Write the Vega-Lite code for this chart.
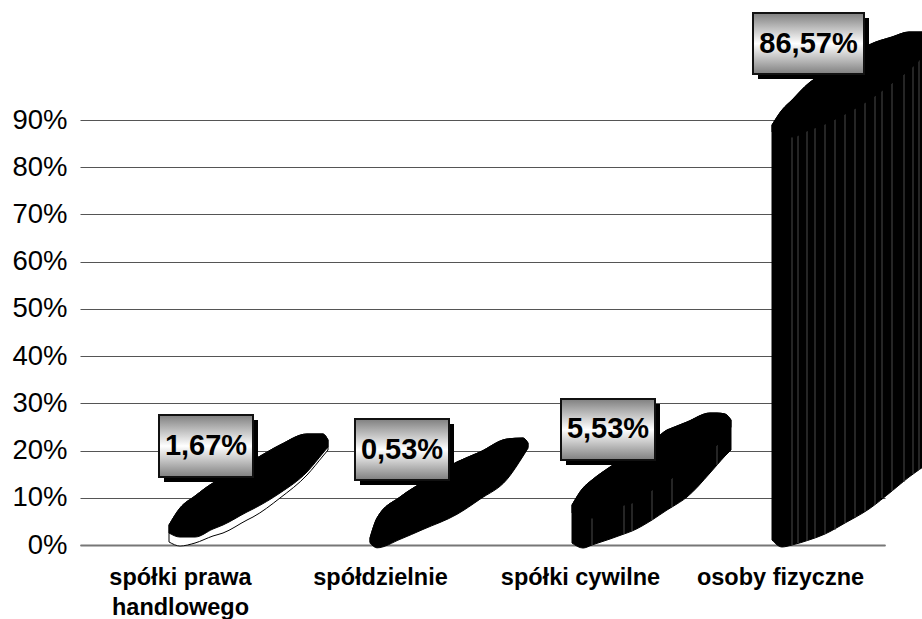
{
"$schema":"https://vega.github.io/schema/vega-lite/v6.json",
"width":805,"height":425,
"autosize":"none",
"padding":{"left":80,"top":120,"right":37,"bottom":74},
"background":"white",
"config":{"view":{"stroke":null}},
"datasets":{
"shapes":[
{"s":"a","x":169,"hi":4.24,"lo":2.54,"base":0.64},
{"s":"a","x":180,"hi":7.84,"lo":1.69,"base":-0.21},
{"s":"a","x":195,"hi":10.38,"lo":1.69,"base":0.42},
{"s":"a","x":213,"hi":13.13,"lo":3.39,"base":1.91},
{"s":"a","x":223,"hi":14.19,"lo":4.24,"base":2.54},
{"s":"a","x":247,"hi":17.37,"lo":6.99,"base":5.29},
{"s":"a","x":253,"hi":18.0,"lo":7.62,"base":5.93},
{"s":"a","x":280,"hi":21.18,"lo":11.01,"base":9.95},
{"s":"a","x":307,"hi":23.51,"lo":15.46,"base":14.82},
{"s":"a","x":323,"hi":23.51,"lo":19.48,"base":18.85},
{"s":"a","x":328,"hi":22.24,"lo":20.75,"base":20.12},
{"s":"b","x":370,"hi":1.48,"lo":0.64,"base":0.4},
{"s":"b","x":377,"hi":5.72,"lo":-0.42,"base":-0.6},
{"s":"b","x":400,"hi":10.16,"lo":1.48,"base":1.2},
{"s":"b","x":423,"hi":13.34,"lo":3.6,"base":3.3},
{"s":"b","x":457,"hi":17.58,"lo":6.78,"base":6.5},
{"s":"b","x":480,"hi":19.69,"lo":9.95,"base":9.7},
{"s":"b","x":507,"hi":22.45,"lo":14.19,"base":13.9},
{"s":"b","x":523,"hi":22.66,"lo":19.06,"base":18.8},
{"s":"b","x":528,"hi":21.6,"lo":20.75,"base":20.5},
{"s":"c","x":572,"hi":8.47,"lo":6.78,"base":0.42},
{"s":"c","x":583,"hi":12.07,"lo":5.72,"base":-0.64},
{"s":"c","x":592,"hi":13.77,"lo":5.72,"base":0},
{"s":"c","x":610,"hi":16.52,"lo":7.2,"base":1.27},
{"s":"c","x":624,"hi":18.42,"lo":8.47,"base":2.33},
{"s":"c","x":632,"hi":19.48,"lo":8.89,"base":2.96},
{"s":"c","x":652,"hi":21.81,"lo":11.65,"base":5.29},
{"s":"c","x":667,"hi":24.35,"lo":13.34,"base":7.41},
{"s":"c","x":672,"hi":24.78,"lo":14.19,"base":8.05},
{"s":"c","x":687,"hi":26.05,"lo":16.31,"base":10.16},
{"s":"c","x":710,"hi":27.95,"lo":20.12,"base":15.25},
{"s":"c","x":717,"hi":27.95,"lo":21.18,"base":16.94},
{"s":"c","x":725,"hi":27.74,"lo":22.87,"base":18.85},
{"s":"c","x":731,"hi":26.47,"lo":24.99,"base":20.12},
{"s":"d","x":772,"hi":88.94,"lo":87.46,"base":1.06},
{"s":"d","x":782,"hi":92.12,"lo":86.83,"base":-0.42},
{"s":"d","x":792,"hi":94.24,"lo":86.4,"base":0},
{"s":"d","x":809,"hi":97.84,"lo":87.88,"base":1.06},
{"s":"d","x":825,"hi":99.96,"lo":89.15,"base":2.33},
{"s":"d","x":845,"hi":102.29,"lo":91.27,"base":4.66},
{"s":"d","x":869,"hi":105.89,"lo":94.24,"base":7.62},
{"s":"d","x":892,"hi":107.58,"lo":97.84,"base":11.44},
{"s":"d","x":909,"hi":108.64,"lo":100.59,"base":14.4},
{"s":"d","x":930,"hi":108.64,"lo":105,"base":17.5}
],
"seams":[
{"x":592,"a":5.72,"b":0},{"x":624,"a":8.47,"b":2.33},{"x":632,"a":8.89,"b":2.96},{"x":652,"a":11.65,"b":5.29},{"x":672,"a":14.19,"b":8.05},{"x":717,"a":21.18,"b":16.94},
{"x":792,"a":86.4,"b":0},{"x":798,"a":86.83,"b":0.42},{"x":807,"a":87.67,"b":0.85},{"x":815,"a":88.31,"b":1.48},{"x":825,"a":89.15,"b":2.33},{"x":835,"a":90.21,"b":3.18},{"x":845,"a":91.27,"b":4.66},{"x":855,"a":92.54,"b":5.93},{"x":865,"a":93.81,"b":7.2},{"x":875,"a":95.3,"b":8.47},{"x":882,"a":96.36,"b":9.95},{"x":892,"a":97.84,"b":11.44},{"x":904,"a":99.74,"b":13.34},{"x":913,"a":101.43,"b":15.04},{"x":919,"a":102.7,"b":15.88}
],
"labels":[
{"category":"spółki prawa handlowego","label":"1,67%","left":159,"right":253,"top":27.53,"bottom":14.4,"cx":206,"cy":20.96},
{"category":"spółdzielnie","label":"0,53%","left":355,"right":449,"top":26.68,"bottom":13.76,"cx":402,"cy":20.2},
{"category":"spółki cywilne","label":"5,53%","left":561,"right":655,"top":30.92,"bottom":18.0,"cx":608,"cy":24.46},
{"category":"osoby fizyczne","label":"86,57%","left":753,"right":864,"top":112.66,"bottom":99.74,"cx":808.5,"cy":106.2}
]
},
"layer":[
{"data":{"name":"labels"},
 "mark":{"type":"rule","opacity":0},
 "encoding":{
  "x":{"field":"cx","type":"quantitative","scale":{"domain":[80,885],"nice":false,"zero":false},
   "axis":{"title":null,"values":[180,380,580,780],"grid":false,"ticks":false,"domainColor":"#777777","domainWidth":2,"labelFont":"Liberation Sans","labelFontWeight":"bold","labelFontSize":23.5,"labelColor":"#000000","labelPadding":20,"labelLineHeight":30,"labelOverlap":false,"labelFlush":false,"labelBaseline":"top",
    "labelExpr":"datum.value==180?['spółki prawa','handlowego']:datum.value==380?'spółdzielnie':datum.value==580?'spółki cywilne':'osoby fizyczne'"}},
  "y":{"field":"cy","type":"quantitative","scale":{"domain":[0,90],"nice":false},
   "axis":{"title":null,"values":[0,10,20,30,40,50,60,70,80,90],"grid":true,"gridColor":"#555555","gridWidth":1,"ticks":false,"domain":false,"labelFont":"Liberation Sans","labelFontSize":27.5,"labelColor":"#000000","labelPadding":13,"labelExpr":"datum.value+'%'"}}
 }},
{"data":{"name":"shapes"},
 "mark":{"type":"area","stroke":"#000000","strokeWidth":1,"clip":false,"interpolate":"monotone"},
 "encoding":{
  "x":{"field":"x","type":"quantitative"},
  "y":{"field":"base","type":"quantitative","stack":null},
  "y2":{"field":"hi"},
  "fill":{"field":"s","type":"nominal","scale":{"domain":["a","b","c","d"],"range":["#ffffff","#000000","#000000","#000000"]},"legend":null}
 }},
{"data":{"name":"seams"},
 "mark":{"type":"rule","color":"#4a4a4a","strokeWidth":1},
 "encoding":{
  "x":{"field":"x","type":"quantitative"},
  "y":{"field":"a","type":"quantitative"},
  "y2":{"field":"b"}
 }},
{"data":{"name":"shapes"},
 "mark":{"type":"area","color":"#000000","stroke":"#000000","strokeWidth":1,"interpolate":"monotone"},
 "encoding":{
  "x":{"field":"x","type":"quantitative"},
  "y":{"field":"lo","type":"quantitative","stack":null},
  "y2":{"field":"hi"},
  "detail":{"field":"s"}
 }},
{"data":{"name":"labels"},
 "mark":{"type":"rect","color":"#000000","xOffset":5,"x2Offset":5,"yOffset":5,"y2Offset":5},
 "encoding":{
  "x":{"field":"left","type":"quantitative"},"x2":{"field":"right"},
  "y":{"field":"top","type":"quantitative"},"y2":{"field":"bottom"}
 }},
{"data":{"name":"labels"},
 "mark":{"type":"rect","stroke":"#111111","strokeWidth":2,
  "fill":{"gradient":"linear","x1":0,"y1":0,"x2":0,"y2":1,"stops":[{"offset":0,"color":"#7f7f7f"},{"offset":0.5,"color":"#ffffff"},{"offset":1,"color":"#7f7f7f"}]}},
 "encoding":{
  "x":{"field":"left","type":"quantitative"},"x2":{"field":"right"},
  "y":{"field":"top","type":"quantitative"},"y2":{"field":"bottom"}
 }},
{"data":{"name":"labels"},
 "mark":{"type":"text","font":"Liberation Sans","fontWeight":"bold","fontSize":29,"color":"#000000","align":"center","baseline":"middle"},
 "encoding":{
  "x":{"field":"cx","type":"quantitative"},
  "y":{"field":"cy","type":"quantitative"},
  "text":{"field":"label","type":"nominal"}
 }}
]
}
